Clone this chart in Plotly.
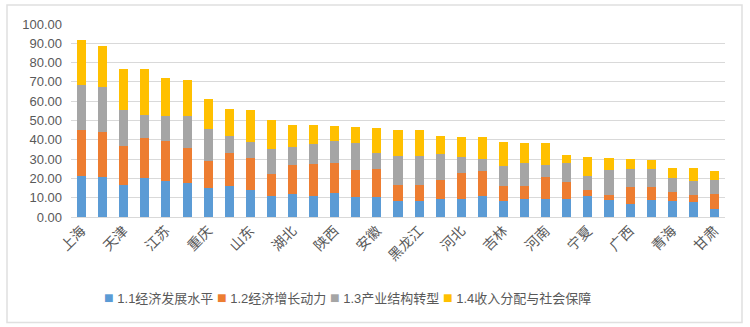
import plotly.graph_objects as go

# Provinces, ordered by total score (every other name is shown on the axis)
provinces = ["上海", "北京", "天津", "浙江", "江苏", "广东", "重庆", "福建", "山东", "辽宁",
             "湖北", "湖南", "陕西", "四川", "安徽", "内蒙古", "黑龙江", "江西", "河北", "海南",
             "吉林", "山西", "河南", "新疆", "宁夏", "云南", "广西", "贵州", "青海", "西藏", "甘肃"]

series_names = ["1.1经济发展水平", "1.2经济增长动力", "1.3产业结构转型", "1.4收入分配与社会保障"]

econ_level = [21.3, 20.8, 16.8, 20.4, 18.5, 17.5, 15.1, 16.1, 14.0, 11.1,
              12.1, 10.7, 12.3, 10.4, 10.4, 8.3, 8.3, 9.3, 9.3, 11.1,
              8.3, 9.5, 9.3, 9.2, 10.9, 8.7, 6.6, 9.0, 8.3, 7.8, 4.0]
growth_drive = [23.7, 23.3, 20.1, 20.3, 20.8, 18.0, 14.0, 16.9, 16.8, 11.4,
                14.7, 16.8, 15.9, 14.0, 14.5, 8.1, 8.5, 9.9, 13.5, 12.6,
                8.0, 6.8, 11.6, 9.0, 3.1, 2.5, 9.1, 6.4, 4.8, 3.4, 7.8]
industry_shift = [23.5, 23.4, 18.8, 11.9, 12.8, 16.9, 16.7, 9.2, 8.1, 12.8,
                  9.5, 10.2, 11.1, 13.7, 8.1, 15.4, 15.0, 13.5, 8.5, 6.4,
                  10.3, 11.6, 6.1, 9.7, 7.1, 13.4, 9.0, 9.7, 7.1, 7.5, 7.6]
income_security = [23.2, 20.9, 21.1, 23.9, 19.7, 18.5, 15.3, 13.7, 16.5, 15.2,
                    11.3, 9.9, 7.9, 8.6, 13.0, 13.2, 13.2, 9.3, 10.4, 11.6,
                    12.3, 10.7, 11.1, 4.3, 10.0, 6.2, 5.4, 4.5, 5.2, 6.7, 4.3]

y_ticks = [0, 10, 20, 30, 40, 50, 60, 70, 80, 90, 100]

colors = ["#5B9BD5", "#ED7D31", "#A5A5A5", "#FFC000"]
values = [econ_level, growth_drive, industry_shift, income_security]

fig = go.Figure()
for name, vals, col in zip(series_names, values, colors):
    fig.add_trace(go.Bar(x=provinces, y=vals, name=name, marker_color=col,
                         marker_line_width=0, showlegend=False))

# Legend drawn as a single line of coloured squares and labels
legend_text = " ".join(
    f'<span style="color:{c}; font-size:16px">■</span> {n}'
    for n, c in zip(series_names, colors)
)
fig.add_annotation(text=legend_text, xref="paper", yref="paper",
                   x=(347 - 71) / 654, y=(216.7 - 297) / 192.7,
                   xanchor="center", yanchor="middle", showarrow=False,
                   font=dict(size=13, color="#595959",
                             family="Liberation Sans, Noto Sans CJK SC"))

# Light frame round the whole chart
fig.add_shape(type="rect", xref="paper", yref="paper",
              x0=(7 - 71) / 654, x1=(742 - 71) / 654,
              y0=(216.7 - 322) / 192.7, y1=(216.7 - 5) / 192.7,
              line=dict(color="#E0E0E0", width=1.5), layer="below")

fig.update_layout(
    width=750, height=327,
    barmode="stack", bargap=0.57,
    margin=dict(l=71, r=25, t=24, b=110),
    paper_bgcolor="white", plot_bgcolor="white",
    font=dict(family="Liberation Sans, Noto Sans CJK SC", color="#595959"),
    xaxis=dict(type="category", categoryorder="array", categoryarray=provinces,
               tickvals=provinces[::2], ticktext=provinces[::2],
               tickangle=-45, showgrid=False, showline=False, ticks="",
               ticklabelstandoff=2,
               tickfont=dict(size=14, color="#595959", family="Noto Sans CJK SC")),
    yaxis=dict(range=[0, 100], tickvals=y_ticks, tickformat=".2f",
               showgrid=True, gridcolor="#D9D9D9", gridwidth=1,
               zeroline=True, zerolinecolor="#D9D9D9", zerolinewidth=1,
               showline=False, ticks="", ticklabelstandoff=8,
               tickfont=dict(size=13, color="#595959")),
)

fig.write_html("out.html")
